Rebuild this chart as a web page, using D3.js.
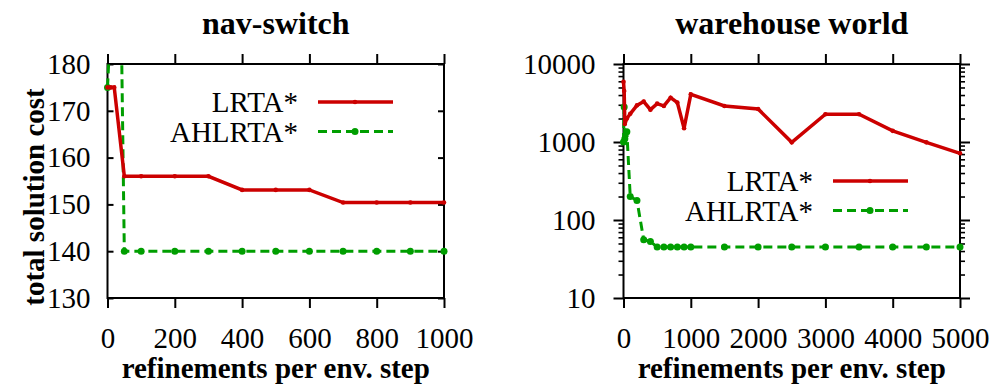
<!DOCTYPE html>
<html>
<head>
<meta charset="utf-8">
<script src="https://cdn.jsdelivr.net/npm/d3@7"></script>
<style>
  body { margin: 0; background: #fff; }
  svg text { font-family: "Liberation Serif", "Times New Roman", Tinos, "DejaVu Serif", serif; fill: #000; }
</style>
</head>
<body>
<svg id="chart" width="994" height="389"></svg>
<script>
// nav-switch data
const navRefinements = [0, 10, 20, 50, 100, 200, 300, 400, 500, 600, 700, 800, 900, 1000];
const navLrta = [175, 175, 175, 156, 156, 156, 156, 153.1, 153.1, 153.1, 150.4, 150.4, 150.4, 150.4];
const navAhlrta = [175, 190, 300, 140, 140, 140, 140, 140, 140, 140, 140, 140, 140, 140];
const navXTicks = [0, 200, 400, 600, 800, 1000];
const navYTicks = [130, 140, 150, 160, 170, 180];

// warehouse world data
const whRefinements = [0, 10, 20, 50, 100, 200, 300, 400, 500, 600, 700, 800, 900, 1000,
  1500, 2000, 2500, 3000, 3500, 4000, 4500, 5000];
const whLrta = [5900, 4500, 1700, 2000, 2300, 2950, 3300, 2600, 3100, 2900, 3700, 3200, 1500, 4080,
  2900, 2650, 990, 2270, 2270, 1390, 990, 716];
const whAhlrta = [1000, 2800, 1100, 1350, 200, 178, 56, 53, 45, 45, 45, 45, 45, 45,
  45, 45, 45, 45, 45, 45, 45, 45];
const whXTicks = [0, 1000, 2000, 3000, 4000, 5000];
const whYTicks = [10, 100, 1000, 10000];

const seriesNames = ['LRTA*', 'AHLRTA*'];
const red = '#cc0000';
const green = '#009e00';
const fontSize = 29;
const serif = '"Liberation Serif", "Times New Roman", Tinos, "DejaVu Serif", serif';

const svg = d3.select('#chart');

function drawPanel(opt) {
  const g = svg.append('g');
  const x = opt.x, y = opt.y;
  const [x0, x1] = x.range();
  const [y0, y1] = y.range(); // bottom, top

  // clip for the lines
  const clipId = 'clip-' + opt.id;
  svg.append('clipPath').attr('id', clipId)
    .append('rect')
    .attr('x', x0 - 10).attr('y', y1)
    .attr('width', x1 - x0 + 20).attr('height', y0 - y1);

  // title
  g.append('text')
    .attr('x', (x0 + x1) / 2).attr('y', 34)
    .attr('text-anchor', 'middle')
    .style('font-size', '32px').style('font-weight', 'bold')
    .text(opt.title);

  // x axes (ticks outward)
  g.append('g')
    .attr('transform', `translate(0,${y0})`)
    .call(d3.axisBottom(x).tickValues(opt.xTicks).tickSizeInner(10).tickSizeOuter(0)
      .tickPadding(19).tickFormat(d3.format('d')));
  g.append('g')
    .attr('transform', `translate(0,${y1})`)
    .call(d3.axisTop(x).tickValues(opt.xTicks).tickSizeInner(10).tickSizeOuter(0).tickFormat(''));

  // y axes
  if (opt.log) {
    g.append('g').attr('transform', `translate(${x0},0)`)
      .call(d3.axisLeft(y).tickValues(opt.yTicks).tickSizeInner(10).tickSizeOuter(0)
        .tickPadding(18).tickFormat(d3.format('d')));
    g.append('g').attr('transform', `translate(${x1},0)`)
      .call(d3.axisRight(y).tickValues(opt.yTicks).tickSizeInner(10).tickSizeOuter(0).tickFormat(''));
    // minor ticks
    const minor = [];
    opt.yTicks.slice(0, -1).forEach(t => { for (let k = 2; k < 10; k++) minor.push(t * k); });
    g.append('g').attr('class', 'minor').attr('transform', `translate(${x0},0)`)
      .call(d3.axisLeft(y).tickValues(minor).tickSizeInner(5).tickSizeOuter(0).tickFormat(''));
    g.append('g').attr('class', 'minor').attr('transform', `translate(${x1},0)`)
      .call(d3.axisRight(y).tickValues(minor).tickSizeInner(5).tickSizeOuter(0).tickFormat(''));
  } else {
    g.append('g').attr('transform', `translate(${x0},0)`)
      .call(d3.axisLeft(y).tickValues(opt.yTicks).tickSizeInner(-6).tickSizeOuter(0).tickPadding(17));
    g.append('g').attr('transform', `translate(${x1},0)`)
      .call(d3.axisRight(y).tickValues(opt.yTicks).tickSizeInner(-6).tickSizeOuter(0).tickFormat(''));
  }

  g.selectAll('.domain').remove();
  g.selectAll('g').attr('font-family', serif);
  g.selectAll('.tick line').attr('stroke', '#000').attr('stroke-width', 2);
  g.selectAll('.minor .tick line').attr('stroke-width', 1.6);
  g.selectAll('.tick text').style('font-size', fontSize + 'px').style('font-family', serif);

  // border
  g.append('rect')
    .attr('x', x0).attr('y', y1)
    .attr('width', x1 - x0).attr('height', y0 - y1)
    .attr('fill', 'none').attr('stroke', '#000').attr('stroke-width', 2);

  // x label
  g.append('text')
    .attr('x', (x0 + x1) / 2).attr('y', 378)
    .attr('text-anchor', 'middle')
    .style('font-size', fontSize + 'px').style('font-weight', 'bold')
    .text('refinements per env. step');

  // series
  const series = [
    { name: seriesNames[0], vals: opt.lrta, color: red, width: 3.5, dash: null, r: 2.3 },
    { name: seriesNames[1], vals: opt.ahlrta, color: green, width: 3, dash: '9,5', r: 3.5 }
  ];
  const [ymin, ymax] = y.domain();

  series.slice().reverse().forEach(s => {
    const pts = opt.xs.map((d, i) => [d, s.vals[i]]);
    g.append('path')
      .datum(pts)
      .attr('clip-path', `url(#${clipId})`)
      .attr('fill', 'none')
      .attr('stroke', s.color)
      .attr('stroke-width', s.width)
      .attr('stroke-dasharray', s.dash)
      .attr('d', d3.line().x(d => x(d[0])).y(d => y(d[1])));
    g.append('g').selectAll('circle')
      .data(pts.filter(d => d[1] >= ymin && d[1] <= ymax))
      .enter().append('circle')
      .attr('cx', d => x(d[0])).attr('cy', d => y(d[1]))
      .attr('r', s.r).attr('fill', s.color);
  });

  // legend
  series.forEach((s, i) => {
    const ly = opt.legendY + i * 29.5;
    g.append('text')
      .attr('x', opt.legendX).attr('y', ly + 10)
      .attr('text-anchor', 'end')
      .style('font-size', fontSize + 'px')
      .text(s.name);
    g.append('line')
      .attr('x1', opt.legendX + 20).attr('x2', opt.legendX + 95)
      .attr('y1', ly).attr('y2', ly)
      .attr('stroke', s.color).attr('stroke-width', s.width)
      .attr('stroke-dasharray', s.dash);
    g.append('circle')
      .attr('cx', opt.legendX + 57).attr('cy', ly)
      .attr('r', s.r).attr('fill', s.color);
  });
}

drawPanel({
  id: 'nav',
  title: 'nav-switch',
  x: d3.scaleLinear().domain([0, 1000]).range([107.5, 444]),
  y: d3.scaleLinear().domain([130, 180]).range([298, 64]),
  xTicks: navXTicks, yTicks: navYTicks, log: false,
  xs: navRefinements, lrta: navLrta, ahlrta: navAhlrta,
  legendX: 298, legendY: 102
});

drawPanel({
  id: 'wh',
  title: 'warehouse world',
  x: d3.scaleLinear().domain([0, 5000]).range([623.5, 960]),
  y: d3.scaleLog().domain([10, 10000]).range([298, 64]),
  xTicks: whXTicks, yTicks: whYTicks, log: true,
  xs: whRefinements, lrta: whLrta, ahlrta: whAhlrta,
  legendX: 813, legendY: 181
});

// y label of left panel
svg.append('text')
  .attr('transform', 'translate(44,197) rotate(-90)')
  .attr('text-anchor', 'middle')
  .style('font-size', fontSize + 'px').style('font-weight', 'bold')
  .text('total solution cost');
</script>
</body>
</html>
